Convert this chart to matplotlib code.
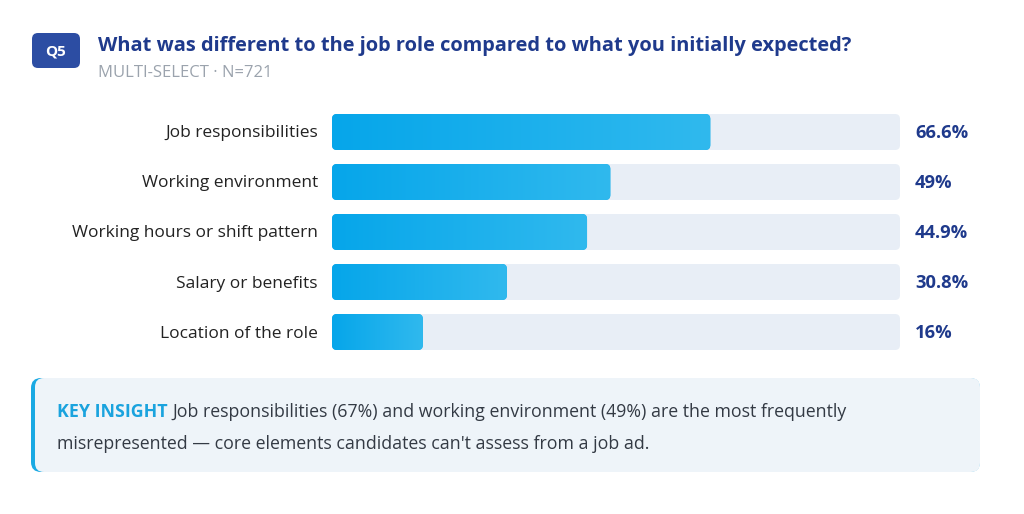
import numpy as np
import matplotlib
matplotlib.use('Agg')
import matplotlib.pyplot as plt
from matplotlib.patches import FancyBboxPatch

plt.rcParams['font.family'] = ['Open Sans', 'DejaVu Sans']

# data
categories = ['Job responsibilities', 'Working environment', 'Working hours or shift pattern',
              'Salary or benefits', 'Location of the role']
values = [66.6, 49, 44.9, 30.8, 16]
value_labels = ['66.6%', '49%', '44.9%', '30.8%', '16%']

title = 'What was different to the job role compared to what you initially expected?'
subtitle = 'MULTI-SELECT \u00b7 N=721'
badge = 'Q5'
insight_head = 'KEY INSIGHT'
insight_line1 = 'Job responsibilities (67%) and working environment (49%) are the most frequently'
insight_line2 = 'misrepresented \u2014 core elements candidates can\'t assess from a job ad.'

W, H = 1024, 514
navy = '#1f3a8c'
fig = plt.figure(figsize=(W / 100, H / 100), dpi=100)
fig.patch.set_facecolor('white')

# background axes in pixel coords for header / insight box
bg = fig.add_axes([0, 0, 1, 1])
bg.set_xlim(0, W)
bg.set_ylim(H, 0)
bg.axis('off')

bg.add_patch(FancyBboxPatch((32, 33), 48, 35, boxstyle='round,pad=0,rounding_size=6',
                            fc='#2c4da3', ec='none'))
bg.text(56, 52, badge, color='white', fontsize=11, fontweight='bold', ha='center', va='center')
bg.text(98, 46, title, color=navy, fontsize=14.4, fontweight='bold', va='center')
bg.text(98, 73, subtitle, color='#9ba3ad', fontsize=12, va='center')

# insight box with cyan left accent
bg.add_patch(FancyBboxPatch((31, 378), 949, 94, boxstyle='round,pad=0,rounding_size=10',
                            fc='#1aa9e3', ec='none'))
bg.add_patch(FancyBboxPatch((35, 378), 945, 94, boxstyle='round,pad=0,rounding_size=9',
                            fc='#eef4f9', ec='none'))
head = bg.text(57, 412, insight_head, color='#1aa3de', fontsize=12.8, fontweight='bold', va='center')
fig.canvas.draw()
r = fig.canvas.get_renderer()
ext = head.get_window_extent(r)
x_px = ext.x1 + 5
bg.text(x_px, 412, insight_line1, color='#333a44', fontsize=12.8, va='center')
bg.text(57, 444, insight_line2, color='#333a44', fontsize=12.8, va='center')

# bar axes: 0-100 over pixel 332..900, rows centred at 132..332
x0, x1 = 332, 900
y_top, y_bot = 107, 357
ax = fig.add_axes([x0 / W, (H - y_bot) / H, (x1 - x0) / W, (y_bot - y_top) / H])
ax.set_xlim(0, 100)
ax.set_ylim(len(categories) - 0.5, -0.5)
ax.axis('off')

px_x = 100 / (x1 - x0)
px_y = len(categories) / (y_bot - y_top)
aspect = px_y / px_x
bh = 0.72
rad = 5 * px_x

grad = np.linspace(0, 1, 256).reshape(1, -1)
cmap = matplotlib.colors.LinearSegmentedColormap.from_list('g', ['#06a6ea', '#30b9ee'])

for i, (cat, v, lab) in enumerate(zip(categories, values, value_labels)):
    track = FancyBboxPatch((0, i - bh / 2), 100, bh,
                           boxstyle='round,pad=0,rounding_size=%f' % rad,
                           mutation_aspect=aspect, fc='#e8eef6', ec='none')
    ax.add_patch(track)
    bar = FancyBboxPatch((0, i - bh / 2), v, bh,
                         boxstyle='round,pad=0,rounding_size=%f' % rad,
                         mutation_aspect=aspect, fc='#10aaea', ec='none')
    ax.add_patch(bar)
    im = ax.imshow(grad, cmap=cmap, aspect='auto', extent=(0, v, i + bh / 2, i - bh / 2),
                   zorder=2)
    im.set_clip_path(bar)
    ax.text(-14 * px_x, i + 0.03, cat, ha='right', va='center', fontsize=12.5, color='#222222')
    ax.text(100 + 15 * px_x, i + 0.03, lab, ha='left', va='center', fontsize=13.2,
            fontweight='bold', color=navy)

ax.set_xlim(0, 100)
ax.set_ylim(len(categories) - 0.5, -0.5)

fig.savefig('out.png', dpi=100, facecolor='white')
